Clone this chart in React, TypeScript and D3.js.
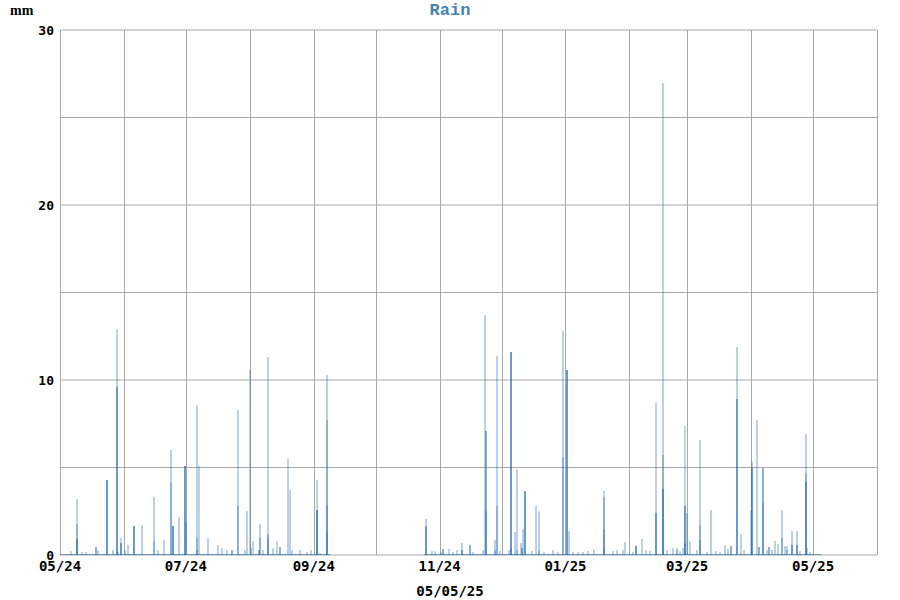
import React from "react";
import * as d3 from "d3";

// each entry: hour of the record, then the readings that fall on the same pixel
type Rec = [string, number[]];

const rainMayJun24: Rec[] = [
  ["2024-05-06T08", [0.23]],
  ["2024-05-09T06", [3.2, 1.8, 0.9, 0.9]],
  ["2024-05-11T16", [0.15]],
  ["2024-05-13T14", [0.15]],
  ["2024-05-18T11", [0.45, 0.45]],
  ["2024-05-19T10", [0.3]],
  ["2024-05-23T19", [4.3, 4.3, 4.3]],
  ["2024-05-26T17", [0.3]],
  ["2024-05-28T15", [12.9, 9.6, 9.6]],
  ["2024-05-29T02", [0.2]],
  ["2024-05-30T14", [0.95, 0.7, 0.7]],
  ["2024-06-01T12", [0.3]],
  ["2024-06-02T23", [0.6]],
  ["2024-06-05T21", [1.65, 1.65, 1.65]],
  ["2024-06-09T18", [1.7]],
  ["2024-06-15T13", [3.3, 0.8]],
  ["2024-06-17T12", [0.3]],
  ["2024-06-20T10", [0.85]],
  ["2024-06-23T19", [6.0, 4.1]],
  ["2024-06-24T18", [1.65, 1.65, 1.65]],
  ["2024-06-27T16", [2.2]],
  ["2024-06-30T14", [5.1, 5.1, 5.1]],
  ["2024-07-01T02", [1.9]],
];

const rainJulSep24: Rec[] = [
  ["2024-07-06T10", [8.6, 1.0, 0.3]],
  ["2024-07-07T09", [5.1]],
  ["2024-07-11T18", [1.0]],
  ["2024-07-16T14", [0.6]],
  ["2024-07-18T12", [0.4]],
  ["2024-07-20T23", [0.3]],
  ["2024-07-23T09", [0.3, 0.3]],
  ["2024-07-26T07", [8.3, 2.8]],
  ["2024-07-29T16", [0.3]],
  ["2024-07-30T15", [2.5]],
  ["2024-08-01T02", [10.6]],
  ["2024-08-01T14", [0.4]],
  ["2024-08-02T13", [0.8]],
  ["2024-08-05T11", [0.3, 0.3]],
  ["2024-08-05T23", [1.8, 1.0]],
  ["2024-08-07T10", [0.3]],
  ["2024-08-09T20", [11.3, 1.2, 1.0]],
  ["2024-08-12T06", [0.4]],
  ["2024-08-14T04", [0.8]],
  ["2024-08-15T15", [0.45, 0.45]],
  ["2024-08-19T12", [5.5]],
  ["2024-08-20T12", [3.7]],
  ["2024-08-21T11", [0.3]],
  ["2024-08-25T08", [0.3]],
  ["2024-08-28T17", [0.2]],
  ["2024-08-30T16", [0.3]],
  ["2024-09-02T14", [4.3, 2.6, 2.6, 2.6]],
  ["2024-09-04T00", [0.1]],
  ["2024-09-07T10", [10.3, 7.7, 2.85, 1.3]],
];

const rainOctDec24: Rec[] = [
  ["2024-10-25T10", [2.05, 1.65, 1.65]],
  ["2024-10-28T07", [0.25]],
  ["2024-10-29T19", [0.25]],
  ["2024-11-01T17", [0.2]],
  ["2024-11-02T15", [0.35, 0.35]],
  ["2024-11-05T14", [0.35]],
  ["2024-11-07T12", [0.2]],
  ["2024-11-09T10", [0.3]],
  ["2024-11-11T20", [0.7, 0.3, 0.3]],
  ["2024-11-15T17", [0.57, 0.57]],
  ["2024-11-17T04", [0.2]],
  ["2024-11-22T01", [0.3]],
  ["2024-11-23T00", [13.7]],
  ["2024-11-23T12", [7.1, 7.1, 2.5]],
  ["2024-11-27T20", [0.85, 0.3]],
  ["2024-11-28T19", [11.4, 2.8]],
  ["2024-11-30T06", [0.25]],
  ["2024-12-04T15", [0.3]],
  ["2024-12-05T14", [11.6, 11.6, 11.6, 0.45]],
  ["2024-12-07T13", [1.3]],
  ["2024-12-08T12", [4.9, 0.3]],
  ["2024-12-10T11", [0.7]],
  ["2024-12-10T22", [0.4, 0.4]],
  ["2024-12-11T10", [1.5]],
  ["2024-12-12T09", [3.65, 3.65, 3.65]],
  ["2024-12-15T19", [0.25]],
  ["2024-12-17T17", [2.8]],
  ["2024-12-19T05", [2.5, 0.3]],
  ["2024-12-21T15", [0.2]],
  ["2024-12-26T00", [0.3]],
  ["2024-12-28T10", [0.2]],
  ["2024-12-30T19", [12.8, 5.6]],
];

const rainJanFeb25: Rec[] = [
  ["2025-01-01T18", [10.6, 10.6, 10.6]],
  ["2025-01-02T17", [1.4]],
  ["2025-01-04T16", [0.2]],
  ["2025-01-07T02", [0.2]],
  ["2025-01-09T12", [0.2]],
  ["2025-01-11T22", [0.25]],
  ["2025-01-14T20", [0.35]],
  ["2025-01-19T16", [3.65, 3.3, 1.5, 0.4]],
  ["2025-01-24T00", [0.25]],
  ["2025-01-26T00", [0.3]],
  ["2025-01-28T22", [0.3]],
  ["2025-01-29T21", [0.75]],
  ["2025-02-02T17", [0.2]],
  ["2025-02-04T04", [0.5, 0.5, 0.5]],
  ["2025-02-07T02", [0.9]],
  ["2025-02-09T00", [0.3]],
  ["2025-02-11T00", [0.25]],
  ["2025-02-13T21", [8.7, 2.4, 2.4]],
  ["2025-02-17T07", [27.0, 5.7, 3.8, 3.8]],
  ["2025-02-19T05", [0.3]],
  ["2025-02-22T03", [0.4]],
  ["2025-02-24T02", [0.4, 0.3]],
  ["2025-02-25T12", [0.25]],
  ["2025-02-27T00", [0.4]],
  ["2025-02-27T22", [7.4, 2.8, 2.8, 0.7]],
  ["2025-02-28T21", [2.4]],
];

const rainMarMay25: Rec[] = [
  ["2025-03-02T09", [0.8]],
  ["2025-03-05T19", [0.3]],
  ["2025-03-07T05", [6.6, 1.7, 0.85]],
  ["2025-03-10T15", [0.2]],
  ["2025-03-12T13", [2.6]],
  ["2025-03-15T00", [0.25]],
  ["2025-03-16T22", [0.2]],
  ["2025-03-19T08", [0.6]],
  ["2025-03-20T19", [0.35]],
  ["2025-03-22T05", [0.5, 0.5]],
  ["2025-03-25T03", [11.9, 8.9, 8.9]],
  ["2025-03-27T02", [1.2]],
  ["2025-03-28T12", [0.3]],
  ["2025-03-31T23", [2.6]],
  ["2025-04-01T10", [5.4, 5.0, 5.0]],
  ["2025-04-03T20", [7.7]],
  ["2025-04-04T19", [0.45, 0.45]],
  ["2025-04-06T18", [5.0, 5.0, 3.0]],
  ["2025-04-08T17", [0.3]],
  ["2025-04-09T16", [0.45, 0.45]],
  ["2025-04-11T03", [0.3]],
  ["2025-04-12T14", [0.8]],
  ["2025-04-14T00", [0.65]],
  ["2025-04-15T23", [2.6, 1.0]],
  ["2025-04-17T10", [0.5]],
  ["2025-04-18T09", [0.5, 0.3]],
  ["2025-04-20T19", [1.35, 0.55, 0.55]],
  ["2025-04-23T05", [1.35, 0.6, 0.6]],
  ["2025-04-24T16", [0.25]],
  ["2025-04-27T14", [6.9, 4.7, 4.2, 4.2]],
  ["2025-04-28T02", [0.4]],
  ["2025-04-29T12", [0.2]],
];

// stretches where the station reported (zero readings draw the blue baseline)
const coverage: [string, string][] = [
  ["2024-05-01T00", "2024-09-09T00"],
  ["2024-10-24T12", "2025-05-05T00"],
];

const yTicks = [0, 5, 10, 15, 20, 25, 30];
const yLabels = [0, 10, 20, 30];
const domainStart = "2024-05-01T00";
const domainEnd = "2025-06-01T00";
const title = "Rain";
const unitLabel = "mm";
const endLabel = "05/05/25";

const W = 900;
const H = 600;
const left = 60;
const right = 877;
const top = 30;
const bottom = 555;
const barColor = "#1f66ad";
const gridColor = "#a8a8a8";
const mono = "'DejaVu Sans Mono', monospace";

export default function App() {
  const parse = d3.timeParse("%Y-%m-%dT%H");
  const x = d3
    .scaleTime()
    .domain([parse(domainStart)!, parse(domainEnd)!])
    .range([left, right]);
  const y = d3.scaleLinear().domain([0, 30]).range([bottom, top]);

  const months = d3.timeMonth.range(parse(domainStart)!, d3.timeDay.offset(parse(domainEnd)!, 1));
  const fmt = d3.timeFormat("%m/%y");

  const records = [
    ...rainMayJun24,
    ...rainJulSep24,
    ...rainOctDec24,
    ...rainJanFeb25,
    ...rainMarMay25,
  ].flatMap(([t, vals]) => vals.map((v) => ({ date: parse(t)!, mm: v })));

  return (
    <svg
      width={W}
      height={H}
      style={{ position: "absolute", left: 0, top: 0, background: "#fff" }}
    >
      <rect x={0} y={0} width={W} height={H} fill="#fff" />

      {/* grid */}
      {yTicks.map((t) => (
        <line key={"h" + t} x1={left} x2={right} y1={y(t)} y2={y(t)} stroke={gridColor} strokeWidth={1} />
      ))}
      {months.map((m) => (
        <line
          key={"v" + m.getTime()}
          x1={Math.round(x(m)) + 0.5}
          x2={Math.round(x(m)) + 0.5}
          y1={top}
          y2={bottom}
          stroke={gridColor}
          strokeWidth={1}
        />
      ))}

      {/* baseline where data exists */}
      {coverage.map(([a, b]) => (
        <line
          key={a}
          x1={x(parse(a)!)}
          x2={x(parse(b)!)}
          y1={bottom - 0.5}
          y2={bottom - 0.5}
          stroke={barColor}
          strokeOpacity={0.55}
          strokeWidth={1}
        />
      ))}

      {/* rain bars */}
      <g shapeRendering="crispEdges">
        {records.map((r, i) => (
          <rect
            key={i}
            x={Math.round(x(r.date)) - 1}
            y={y(r.mm)}
            width={2}
            height={y(0) - y(r.mm)}
            fill={barColor}
            fillOpacity={0.3}
          />
        ))}
      </g>

      {/* y labels */}
      {yLabels.map((t) => (
        <text
          key={"yl" + t}
          x={54}
          y={y(t) + 1}
          textAnchor="end"
          dominantBaseline="middle"
          fontFamily={mono}
          fontWeight="bold"
          fontSize={13}
          fill="#000"
        >
          {t}
        </text>
      ))}

      {/* x labels every two months */}
      {months
        .filter((m, i) => i % 2 === 0)
        .map((m) => (
          <text
            key={"xl" + m.getTime()}
            x={x(m)}
            y={571}
            textAnchor="middle"
            fontFamily={mono}
            fontWeight="bold"
            fontSize={14}
            fill="#000"
          >
            {fmt(m)}
          </text>
        ))}

      <text
        x={450}
        y={15}
        textAnchor="middle"
        fontFamily="'Liberation Mono', 'Courier New', monospace"
        fontWeight="bold"
        fontSize={17}
        fill="#4682b4"
      >
        {title}
      </text>
      <text
        x={10}
        y={15}
        fontFamily="'Liberation Serif', serif"
        fontWeight="bold"
        fontSize={14}
        fill="#000"
      >
        {unitLabel}
      </text>
      <text
        x={450}
        y={596}
        textAnchor="middle"
        fontFamily={mono}
        fontWeight="bold"
        fontSize={14}
        fill="#000"
      >
        {endLabel}
      </text>
    </svg>
  );
}
